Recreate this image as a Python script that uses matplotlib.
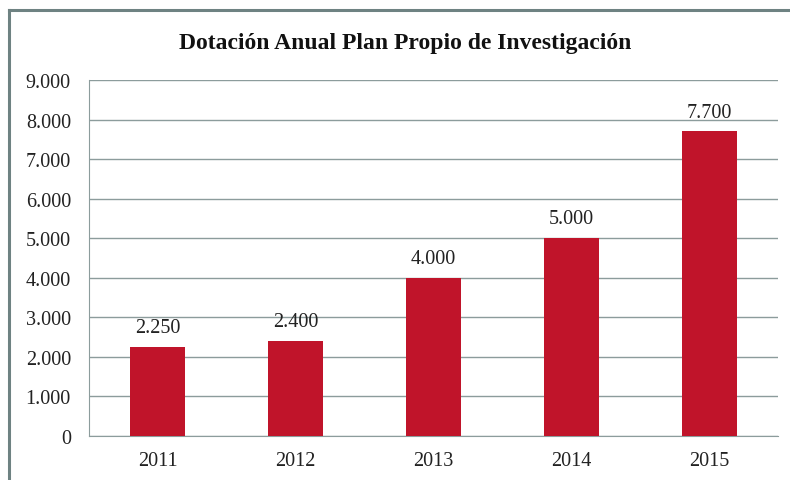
import matplotlib.pyplot as plt
from matplotlib.lines import Line2D
from matplotlib.ticker import FuncFormatter

# Data
years = ["2011", "2012", "2013", "2014", "2015"]
amounts = [2250, 2400, 4000, 5000, 7700]
y_ticks = [0, 1000, 2000, 3000, 4000, 5000, 6000, 7000, 8000, 9000]


def miles(v, pos=None):
    return f"{int(v):,}".replace(",", ".")


plt.rcParams['font.family'] = ['Liberation Serif', 'DejaVu Serif']

fig = plt.figure(figsize=(7.9, 4.81), dpi=100)
ax = fig.add_axes([89 / 790, 1 - 437 / 481, (778 - 89) / 790, (437 - 81) / 481])

bar_color = "#C0142A"
grid_color = "#8C9C9C"

x = range(len(years))
ax.bar(x, amounts, width=0.4, color=bar_color, zorder=3)
for xi, v in zip(x, amounts):
    ax.annotate(miles(v), (xi, v), xytext=(0, 7), textcoords="offset points",
                ha="center", va="bottom", fontsize=14.5, color="#222222")

ax.set_xlim(-0.5, len(years) - 0.5)
ax.set_ylim(0, 9000)
ax.set_yticks(y_ticks)
ax.yaxis.set_major_formatter(FuncFormatter(miles))
ax.set_xticks(list(x))
ax.set_xticklabels(years)
ax.tick_params(axis="both", length=0, labelsize=14.5, colors="#222222")
ax.tick_params(axis="y", pad=13)
ax.tick_params(axis="x", pad=11)
ax.grid(axis="y", color=grid_color, linewidth=1, zorder=0)

for s in ["top", "right"]:
    ax.spines[s].set_visible(False)
ax.spines["left"].set_color(grid_color)
ax.spines["bottom"].set_color(grid_color)

fig.text(405 / 790, 1 - 43 / 481, "Dotación Anual Plan Propio de Investigación",
         ha="center", va="center", fontsize=17, fontweight="bold", color="#111111")

# outer frame (top and left only, like the cropped original)
frame_color = "#6E8282"
fig.add_artist(Line2D([9 / 790, 1], [1 - 11 / 481, 1 - 11 / 481], color=frame_color,
                      linewidth=2.2, transform=fig.transFigure))
fig.add_artist(Line2D([9 / 790, 9 / 790], [0, 1 - 11 / 481], color=frame_color,
                      linewidth=2.2, transform=fig.transFigure))

plt.savefig("out.png", dpi=100)
